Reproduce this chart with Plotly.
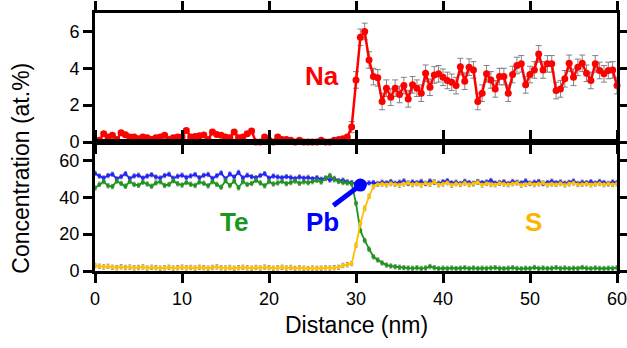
import plotly.graph_objects as go

# distance grid (nm), 0.5 nm step
distance = [i * 0.5 for i in range(121)]
x_ticks = [0, 10, 20, 30, 40, 50, 60]
na_ticks = [0, 2, 4, 6]
main_ticks = [0, 20, 40, 60]

na = [0.0, 0.1, 0.45, 0.27, 0.36, 0.13, 0.5, 0.4, 0.27, 0.27,
      0.18, 0.27, 0.23, 0.13, 0.23, 0.27, 0.36, 0.13, 0.23, 0.27,
      0.27, 0.63, 0.27, 0.3, 0.34, 0.38, 0.13, 0.54, 0.41, 0.36,
      0.27, 0.23, 0.54, 0.23, 0.27, 0.45, 0.6, 0.0, 0.0, 0.27,
      0.09, 0.0, 0.27, 0.13, 0.13, 0.09, 0.0, 0.09, 0.0, 0.0,
      0.0, 0.0, 0.09, 0.0, 0.0, 0.09, 0.13, 0.18, 0.27,
      0.81, 3.37, 5.68, 6.0, 4.45, 3.55, 3.48, 2.2, 2.92, 2.43,
      2.92, 2.58, 3.06, 2.34, 3.1, 2.92, 2.65, 3.73, 2.97, 3.64,
      3.7, 3.51, 3.34, 3.24, 3.06, 4.09, 3.3, 4.06, 3.91, 2.2,
      2.65, 3.7, 3.37, 2.88, 3.55, 3.55, 2.65, 3.66, 4.15, 4.24,
      3.1, 3.66, 3.91, 4.78, 3.91, 4.24, 4.24, 2.79, 2.88, 3.43,
      4.27, 3.51, 4.05, 4.27, 3.73, 3.34, 4.24, 3.88, 3.7, 3.88,
      3.91, 3.06]
na_err = [0.1] * 59 + [0.3] + [0.45] * 61

pb = [53.0, 51.5, 50.5, 51.8, 52.5, 50.0, 51.2, 52.8, 50.2, 51.6,
      52.0, 50.4, 51.5, 52.2, 51.0, 50.5, 51.8, 52.5, 50.3, 51.4,
      52.0, 50.8, 51.6, 52.3, 50.6, 51.9, 52.4, 50.2, 51.7, 53.2,
      50.0, 52.6, 51.0, 53.5, 50.5, 52.0, 51.2, 50.6, 51.8, 52.8,
      50.4, 51.5, 51.0, 50.6, 51.2, 50.8, 50.2, 51.0, 50.4, 50.8,
      50.0, 50.6, 49.8, 50.4, 49.4, 50.2, 49.0, 49.3, 48.4, 48.0,
      47.2, 46.6, 47.4, 47.8, 48.0, 47.5, 48.2,
      47.8, 48.5, 47.6, 48.2, 48.9, 47.5, 48.3, 47.9, 48.6, 47.4,
      48.8, 48.1, 47.6, 48.4, 49.0, 47.8, 48.2, 47.5, 48.7, 48.0,
      47.6, 48.5, 47.9, 48.3, 49.1, 47.7, 48.0, 48.4, 47.5, 48.6,
      48.1, 47.8, 48.9, 47.6, 48.2, 48.5, 47.4, 48.0, 48.7, 47.9,
      48.3, 47.6, 48.1, 48.8, 47.5, 48.2, 47.9, 48.4, 47.7, 48.6,
      48.0, 47.5, 48.3, 47.9]

te = [45.0, 47.0, 48.5, 46.2, 45.8, 48.8, 47.5, 46.0, 48.6, 47.0,
      46.5, 48.2, 47.2, 46.0, 47.8, 48.4, 46.4, 47.0, 49.0, 47.3,
      46.6, 48.0, 47.1, 46.4, 48.3, 47.6, 46.2, 48.5, 47.0, 45.5,
      49.0, 46.4, 48.8, 45.2, 48.5, 47.0, 47.5, 49.2, 47.8, 46.2,
      48.5, 47.2, 47.8, 48.6, 47.4, 48.0, 48.8, 47.6, 48.4, 47.9,
      48.5, 49.2, 48.3, 50.2, 51.8, 49.5, 48.6, 48.0, 47.8,
      47.4, 36.7, 22.0, 16.5, 11.8, 7.7, 6.0, 4.4, 3.2, 2.7, 2.3, 2.0,
      1.8, 1.6, 1.5, 1.7, 1.4, 1.6, 2.4, 1.8, 1.3, 1.5,
      1.4, 1.6, 1.3, 1.5, 1.7, 1.4, 1.6, 1.3, 1.5, 1.4,
      1.6, 1.8, 1.4, 1.3, 1.5, 1.7, 1.4, 1.2, 1.5, 1.3,
      1.9, 1.4, 1.6, 1.3, 1.5, 1.8, 1.4, 1.6, 1.3, 1.5,
      1.4, 1.9, 1.5, 1.3, 1.6, 1.4, 1.3, 1.5, 1.4, 1.7]

s = [3.0, 2.6, 2.2, 2.5, 2.0, 1.8, 2.3, 1.9, 2.1, 1.7,
     1.9, 2.2, 1.6, 2.0, 1.8, 1.5, 1.7, 2.0, 1.6, 1.8,
     2.1, 1.7, 1.9, 1.6, 2.0, 1.8, 1.5, 1.9, 2.2, 1.7,
     1.6, 1.9, 1.5, 1.8, 2.0, 1.7, 1.5, 1.9, 1.6, 2.1,
     1.8, 1.5, 1.7, 2.0, 1.6, 1.9, 1.4, 1.7, 1.5, 1.3,
     1.6, 1.4, 1.5, 1.7, 1.6, 1.8, 2.0,
     3.0, 3.4, 4.0, 14.0, 25.8, 34.0, 40.5, 45.8, 47.0,
     47.2, 46.8, 47.5, 47.0, 46.6, 47.3, 47.8, 46.9, 47.4, 46.7,
     47.6, 47.1, 48.3, 46.8, 47.2, 47.9, 46.6, 47.4, 47.0, 47.7,
     46.9, 47.3, 48.2, 46.7, 47.5, 47.0, 46.8, 47.6, 47.2, 46.9,
     47.4, 47.8, 46.6, 47.1, 47.5, 46.9, 47.3, 47.7, 46.8, 47.2,
     47.0, 47.5, 46.7, 47.3, 47.8, 46.9, 47.1, 47.4, 46.8, 47.2,
     47.5, 46.9, 47.3, 47.0, 47.4]

pb_mark_index = 61  # highlighted Pb point at 30.5 nm

RED = "#ff0000"
BLUE = "#2424ff"
GREEN = "#1c961c"
GOLD = "#ffc000"
GREY = "rgba(110,110,110,0.85)"
FONT = "Liberation Sans, Arial, sans-serif"

fig = go.Figure()

small_err = dict(type="constant", value=1.2, color=GREY, thickness=0.8, width=1.5)

fig.add_trace(go.Scatter(x=distance, y=pb, mode="lines+markers", xaxis="x2", yaxis="y2",
                         line=dict(color=BLUE, width=1.8), marker=dict(size=4, color=BLUE),
                         error_y=small_err, showlegend=False))
fig.add_trace(go.Scatter(x=distance, y=te, mode="lines+markers", xaxis="x2", yaxis="y2",
                         line=dict(color=GREEN, width=1.8), marker=dict(size=4, color=GREEN),
                         error_y=small_err, showlegend=False))
fig.add_trace(go.Scatter(x=distance, y=s, mode="lines+markers", xaxis="x2", yaxis="y2",
                         line=dict(color=GOLD, width=1.8), marker=dict(size=4, color=GOLD),
                         error_y=small_err, showlegend=False))
fig.add_trace(go.Scatter(x=[distance[pb_mark_index]], y=[pb[pb_mark_index]], mode="markers",
                         xaxis="x2", yaxis="y2", marker=dict(size=13, color="#0000ff"),
                         showlegend=False, cliponaxis=False))

fig.add_trace(go.Scatter(x=distance, y=na, mode="lines+markers", xaxis="x", yaxis="y",
                         line=dict(color=RED, width=2.5), marker=dict(size=7, color=RED),
                         error_y=dict(type="data", array=na_err, color=GREY, thickness=1, width=3),
                         showlegend=False, cliponaxis=False))

axis_common = dict(showline=True, linecolor="black", linewidth=3, mirror="allticks",
                   ticks="outside", ticklen=9, tickwidth=3, tickcolor="black",
                   showgrid=False, zeroline=False, ticklabeloverflow="allow",
                   tickfont=dict(family=FONT, size=18, color="black"))

fig.update_layout(
    width=627, height=348,
    margin=dict(l=95, r=10, t=13, b=77, autoexpand=False),
    plot_bgcolor="white", paper_bgcolor="white",
    xaxis=dict(domain=[0, 1], anchor="y", range=[0, 60], tickvals=x_ticks,
               showticklabels=False, **axis_common),
    yaxis=dict(domain=[0.5, 1], anchor="x", range=[0, 7], tickvals=na_ticks, **axis_common),
    xaxis2=dict(domain=[0, 1], anchor="y2", range=[0, 60], tickvals=x_ticks, **axis_common),
    yaxis2=dict(domain=[0, 0.5], anchor="x2", range=[0, 70], tickvals=main_ticks, **axis_common),
    shapes=[dict(type="line", xref="x2", yref="y2", x0=27.4, y0=35.5,
                 x1=distance[pb_mark_index], y1=pb[pb_mark_index],
                 line=dict(color="#0000ff", width=5))],
    annotations=[
        dict(text="Na", x=26.1, y=3.6, xref="x", yref="y", showarrow=False,
             font=dict(family=FONT, size=26, color=RED, weight="bold")),
        dict(text="Te", x=16.0, y=26.5, xref="x2", yref="y2", showarrow=False,
             font=dict(family=FONT, size=26, color=GREEN, weight="bold")),
        dict(text="Pb", x=26.1, y=26.5, xref="x2", yref="y2", showarrow=False,
             font=dict(family=FONT, size=26, color="#0000ff", weight="bold")),
        dict(text="S", x=50.4, y=26.5, xref="x2", yref="y2", showarrow=False,
             font=dict(family=FONT, size=26, color="#ffb400", weight="bold")),
        dict(text="Concentration (at.%)", x=-0.142, y=0.40, xref="paper", yref="paper",
             textangle=-90, showarrow=False, xanchor="center", yanchor="middle",
             font=dict(family=FONT, size=23, color="black")),
        dict(text="Distance (nm)", x=0.5, y=-0.21, xref="paper", yref="paper",
             showarrow=False, xanchor="center", yanchor="middle",
             font=dict(family=FONT, size=23, color="black")),
    ],
)

fig.write_html("out.html")
